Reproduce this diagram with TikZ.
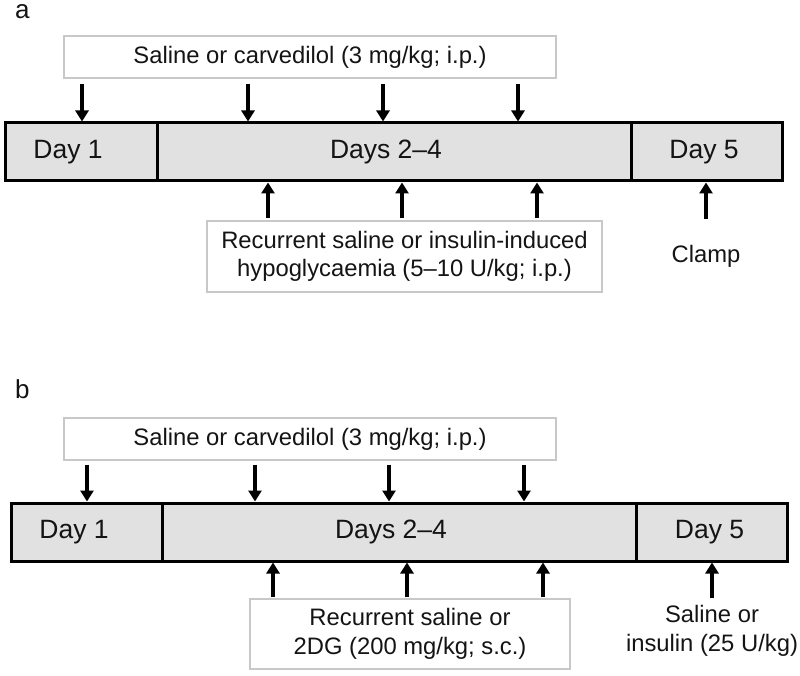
\documentclass[tikz,border=0pt]{standalone}
\usepackage{fontspec}
\setmainfont{Liberation Sans}
\usetikzlibrary{arrows.meta,calc}
\definecolor{barfill}{RGB}{225,225,225}
\definecolor{boxline}{RGB}{200,200,200}
\definecolor{txt}{RGB}{20,20,20}
\begin{document}
\begin{tikzpicture}[x=1pt,y=-1pt,
  barseg/.style={draw=black,line width=3pt,fill=barfill,rectangle,inner sep=0pt,minimum height=58pt},
  bartext/.style={font=\fontsize{26.5}{30}\selectfont,text=txt,inner sep=0pt},
  labbox/.style={draw=boxline,line width=1.2pt,fill=white,rectangle,inner sep=0pt,align=center,
    font=\fontsize{23.8}{28.5}\selectfont,text=txt},
  plain/.style={inner sep=0pt,align=center,font=\fontsize{23.8}{28.5}\selectfont,text=txt},
  panel/.style={inner sep=0pt,anchor=base west,font=\fontsize{26}{30}\selectfont,text=txt},
  arr/.style={line width=3.2pt,-{Triangle[length=11pt,width=13pt]}}]
\useasboundingbox (0,0) rectangle (800,676);

% ---------------- panel a ----------------
\node[panel] (la) at (15,19) {a};
\node[labbox,minimum width=492pt,minimum height=42pt] (topA) at (310,57) {Saline or carvedilol (3 mg/kg; i.p.)};
\node[barseg,minimum width=152pt] (barA1) at (81,152) {};
\node[barseg,minimum width=474pt] (barA2) at (394,152) {};
\node[barseg,minimum width=151pt] (barA3) at (706.5,152) {};
\node[bartext] (tA1) at (68,152) {Day 1};
\node[bartext] (tA2) at (386,152) {Days 2–4};
\node[bartext] (tA3) at (704,152) {Day 5};
\node[labbox,minimum width=395pt,minimum height=71pt] (botA) at (404.5,256.5) {Recurrent saline or insulin-induced\\hypoglycaemia (5–10 U/kg; i.p.)};
\node[plain] (clampA) at (706,256) {Clamp};

\foreach \x/\b in {82/barA1,248/barA2,383/barA2,518/barA2}
  \draw[arr] ($(topA.south -| \x,0)+(0,5)$) -- (\b.north -| \x,0);
\foreach \x in {268,402,537}
  \draw[arr] ($(botA.north -| \x,0)+(0,-2)$) -- (barA2.south -| \x,0);
\coordinate (cA) at (706,219);
\draw[arr] (cA) -- (barA3.south -| cA);

% ---------------- panel b ----------------
\node[panel] (lb) at (15,398) {b};
\node[labbox,minimum width=492pt,minimum height=42pt] (topB) at (310,439) {Saline or carvedilol (3 mg/kg; i.p.)};
\node[barseg,minimum width=151pt] (barB1) at (86.5,532) {};
\node[barseg,minimum width=474pt] (barB2) at (399,532) {};
\node[barseg,minimum width=151pt] (barB3) at (711.5,532) {};
\node[bartext] (tB1) at (74,532) {Day 1};
\node[bartext] (tB2) at (391,532) {Days 2–4};
\node[bartext] (tB3) at (709.5,532) {Day 5};
\node[labbox,minimum width=320pt,minimum height=70pt] (botB) at (410,634) {Recurrent saline or\\2DG (200 mg/kg; s.c.)};
\node[plain] (insB) at (712,631) {Saline or\\insulin (25 U/kg)};

\foreach \x/\b in {87/barB1,255/barB2,389/barB2,524/barB2}
  \draw[arr] ($(topB.south -| \x,0)+(0,4)$) -- (\b.north -| \x,0);
\foreach \x in {273,407,543}
  \draw[arr] ($(botB.north -| \x,0)+(0,-1)$) -- (barB2.south -| \x,0);
\coordinate (cB) at (712,598);
\draw[arr] (cB) -- (barB3.south -| cB);
\end{tikzpicture}
\end{document}
